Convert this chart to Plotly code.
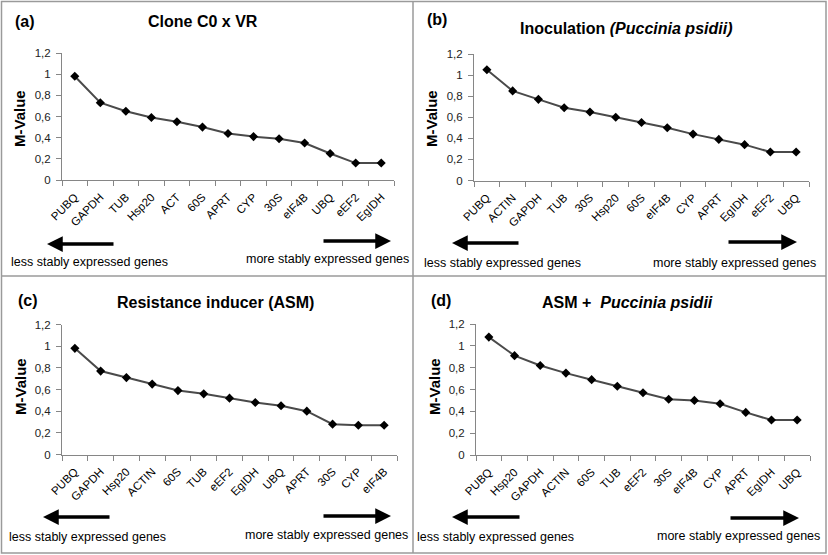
import plotly.graph_objects as go

W, H = 828, 555

# ── data ─────────────────────────────────────────────────────
genes_a = ["PUBQ", "GAPDH", "TUB", "Hsp20", "ACT", "60S", "APRT", "CYP", "30S",
           "eIF4B", "UBQ", "eEF2", "EgIDH"]
m_a = [0.98, 0.73, 0.65, 0.59, 0.55, 0.50, 0.44, 0.41, 0.39, 0.35, 0.25, 0.16, 0.16]

genes_b = ["PUBQ", "ACTIN", "GAPDH", "TUB", "30S", "Hsp20", "60S", "eIF4B", "CYP",
           "APRT", "EgIDH", "eEF2", "UBQ"]
m_b = [1.05, 0.85, 0.77, 0.69, 0.65, 0.60, 0.55, 0.50, 0.44, 0.39, 0.34, 0.27, 0.27]

genes_c = ["PUBQ", "GAPDH", "Hsp20", "ACTIN", "60S", "TUB", "eEF2", "EgIDH", "UBQ",
           "APRT", "30S", "CYP", "eIF4B"]
m_c = [0.98, 0.77, 0.71, 0.65, 0.59, 0.56, 0.52, 0.48, 0.45, 0.40, 0.28, 0.27, 0.27]

genes_d = ["PUBQ", "Hsp20", "GAPDH", "ACTIN", "60S", "TUB", "eEF2", "30S", "eIF4B",
           "CYP", "APRT", "EgIDH", "UBQ"]
m_d = [1.08, 0.91, 0.82, 0.75, 0.69, 0.63, 0.57, 0.51, 0.50, 0.47, 0.39, 0.32, 0.32]

titles = ["Clone C0 x VR",
          "Inoculation <i>(Puccinia psidii)</i>",
          "Resistance inducer (ASM)",
          "ASM +  <i>Puccinia psidii</i>"]
letters = ["(a)", "(b)", "(c)", "(d)"]


def px(x):
    return x / W


def py(y):
    return 1 - y / H


FONT = "Liberation Sans, Arial, sans-serif"
AXIS_COL = "#868686"

# pixel geometry of each panel: plot area (x0, x1, ytop, ybottom), title pos, letter pos,
# y-label pos, arrows and captions
panels = [
    dict(genes=genes_a, vals=m_a, area=(62, 394, 53, 180), title=(203, 21), letter=(25, 21),
         ylab=(19, 119), larrow=(47, 115, 244), rarrow=(391, 322, 241),
         ltext=(89, 262), rtext=(327, 259)),
    dict(genes=genes_b, vals=m_b, area=(474, 809, 54, 180.5), title=(626, 28), letter=(437, 20),
         ylab=(431, 119), larrow=(452, 520, 243), rarrow=(797, 727, 242),
         ltext=(502, 263), rtext=(734, 263)),
    dict(genes=genes_c, vals=m_c, area=(62, 397, 324.5, 454.5), title=(215, 302), letter=(28, 300),
         ylab=(20, 387), larrow=(43, 111, 517), rarrow=(391, 322, 516),
         ltext=(87, 537), rtext=(326, 535)),
    dict(genes=genes_d, vals=m_d, area=(476, 810, 324, 455), title=(627, 302), letter=(441, 300),
         ylab=(434, 387), larrow=(452, 521, 517), rarrow=(799, 729, 518),
         ltext=(495, 537), rtext=(738, 536)),
]

fig = go.Figure()
annotations = []
layout_axes = {}

for i, p in enumerate(panels):
    n = "" if i == 0 else str(i + 1)
    x0, x1, yt, yb = p["area"]
    fig.add_trace(go.Scatter(
        x=p["genes"], y=p["vals"], mode="lines+markers",
        line=dict(color="#4a4a4a", width=2),
        marker=dict(symbol="diamond", size=7, color="black"),
        xaxis="x" + n, yaxis="y" + n, showlegend=False,
    ))
    layout_axes["xaxis" + n] = dict(
        domain=[px(x0), px(x1)], anchor="y" + n, type="category",
        range=[-0.5, len(p["genes"]) - 0.5], automargin=False,
        tickson="boundaries", ticks="outside", ticklen=5, tickcolor=AXIS_COL,
        showline=True, linecolor=AXIS_COL, linewidth=1, showgrid=False,
        tickangle=-45, tickfont=dict(family=FONT, size=11.5, color="black"),
        ticklabelstandoff=5,
    )
    layout_axes["yaxis" + n] = dict(
        domain=[py(yb), py(yt)], anchor="x" + n, range=[0, 1.2], dtick=0.2,
        automargin=False,
        ticks="outside", ticklen=5, tickcolor=AXIS_COL, showline=True,
        linecolor=AXIS_COL, linewidth=1, showgrid=False, zeroline=False,
        tickfont=dict(family=FONT, size=11.5, color="#222"), ticklabelstandoff=3,
    )
    tx, ty = p["title"]
    annotations.append(dict(text="<b>" + titles[i] + "</b>", x=px(tx), y=py(ty),
                            font=dict(family=FONT, size=16, color="black")))
    lx, ly = p["letter"]
    annotations.append(dict(text="<b>" + letters[i] + "</b>", x=px(lx), y=py(ly),
                            font=dict(family=FONT, size=16, color="black")))
    yx, yy = p["ylab"]
    annotations.append(dict(text="<b>M-Value</b>", x=px(yx), y=py(yy), textangle=-90,
                            font=dict(family=FONT, size=15, color="black")))
    for key in ("larrow", "rarrow"):
        tip, tail, ay = p[key]
        annotations.append(dict(text="", x=px(tip), y=py(ay), ax=tail - tip, ay=0,
                                showarrow=True, arrowhead=2, arrowsize=0.9,
                                arrowwidth=3.5, arrowcolor="black"))
    cx, cy = p["ltext"]
    annotations.append(dict(text="less stably expressed genes", x=px(cx), y=py(cy),
                            font=dict(family=FONT, size=12.5, color="black")))
    cx, cy = p["rtext"]
    annotations.append(dict(text="more stably expressed genes", x=px(cx), y=py(cy),
                            font=dict(family=FONT, size=12.5, color="black")))

for a in annotations:
    a.setdefault("xref", "paper")
    a.setdefault("yref", "paper")
    a.setdefault("showarrow", False)
    a.setdefault("xanchor", "center")
    a.setdefault("yanchor", "middle")

BORDER = "#9a9a9a"
shapes = [
    dict(type="rect", xref="paper", yref="paper", x0=px(1.5), x1=px(826), y0=py(553),
         y1=py(1.5), line=dict(color=BORDER, width=1.5)),
    dict(type="line", xref="paper", yref="paper", x0=px(413), x1=px(413), y0=py(553),
         y1=py(1.5), line=dict(color=BORDER, width=1.5)),
    dict(type="line", xref="paper", yref="paper", x0=px(1.5), x1=px(826), y0=py(276),
         y1=py(276), line=dict(color=BORDER, width=1.5)),
]

fig.update_layout(
    template="none",
    width=W, height=H, margin=dict(l=0, r=0, t=0, b=0, pad=0),
    paper_bgcolor="white", plot_bgcolor="white",
    separators=",.", annotations=annotations, shapes=shapes,
    font=dict(family=FONT),
    **layout_axes,
)

# pin the plot to the top-left corner of the page
pin = ("document.body.style.margin='0';"
       "var d=document.getElementById('{plot_id}');"
       "d.style.position='absolute';d.style.top='0px';d.style.left='0px';")
fig.write_html("out.html", config={"displayModeBar": False}, post_script=pin)
